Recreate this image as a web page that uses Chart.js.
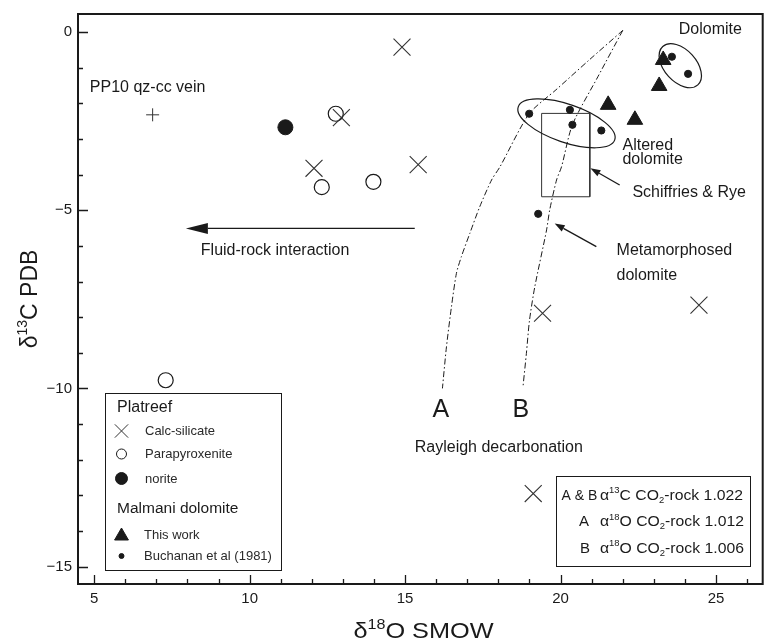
<!DOCTYPE html>
<html>
<head>
<meta charset="utf-8">
<script src="https://cdn.jsdelivr.net/npm/chart.js@4.4.0/dist/chart.umd.min.js"></script>
<style>
body { margin: 0; background: #fff; }
canvas { display: block; }
</style>
</head>
<body>
<canvas id="myChart" width="764" height="642"></canvas>
<script>
// axis ticks
let xTicks = [5, 10, 15, 20, 25];
let yTicks = [0, -5, -10, -15];

// Platreef
let calcX = [14.9, 12.95, 12.07, 15.42, 19.42, 24.45, 19.12];
let calcY = [-0.42, -2.4, -3.82, -3.72, -7.89, -7.66, -12.95];
let paraX = [12.77, 12.32, 13.98, 7.3];
let paraY = [-2.29, -4.35, -4.2, -9.77];
let noriteX = [11.15];
let noriteY = [-2.67];
// Malmani dolomite
let thisWorkX = [23.3, 23.17, 21.53, 22.39];
let thisWorkY = [-0.78, -1.51, -2.04, -2.46];
let buchX = [23.58, 24.1, 18.99, 20.3, 20.38, 21.31, 19.28];
let buchY = [-0.69, -1.17, -2.29, -2.18, -2.6, -2.76, -5.1];
// PP10 qz-cc vein
let veinX = [6.88];
let veinY = [-2.32];
// Rayleigh decarbonation curves
let curveAX = [22.0, 20.92, 19.85, 18.99, 18.05, 17.78, 17.4, 17.08, 16.81, 16.65, 16.49, 16.33, 16.2];
let curveAY = [0.05, -0.78, -1.62, -2.29, -3.78, -4.15, -4.9, -5.65, -6.3, -6.77, -7.71, -8.83, -10.0];
let curveBX = [22.0, 21.2, 20.38, 20.03, 19.87, 19.65, 19.55, 19.17, 19.0, 18.9, 18.79];
let curveBY = [0.05, -1.25, -2.6, -3.78, -4.15, -4.99, -5.55, -7.15, -8.09, -9.02, -9.96];
// Schiffries & Rye field
let boxX = [19.39, 20.94, 20.94, 19.39, 19.39];
let boxY = [-2.28, -2.28, -4.62, -4.62, -2.28];

const font = '"Liberation Sans", Arial, Helvetica, sans-serif';
const ink = '#1a1a1a';

function pts(xs, ys) {
  return xs.map((x, i) => ({ x: x, y: ys[i] }));
}

function minus(v) {
  return v < 0 ? '\u2212' + Math.abs(v) : String(v);
}

// notes placed in data units
let notes = [
  { t: 'Dolomite', x: 23.8, y: 0.06 },
  { t: 'Altered', x: 21.99, y: -3.17 },
  { t: 'dolomite', x: 21.99, y: -3.59 },
  { t: 'Schiffries & Rye', x: 22.31, y: -4.51 },
  { t: 'Metamorphosed', x: 21.8, y: -6.12 },
  { t: 'dolomite', x: 21.8, y: -6.82 },
  { t: 'PP10 qz-cc vein', x: 4.86, y: -1.56 },
  { t: 'Fluid-rock interaction', x: 8.43, y: -6.13 },
  { t: 'Rayleigh decarbonation', x: 15.31, y: -11.65 }
];
let arrows = [
  { x1: 15.31, y1: -5.51, x2: 7.95, y2: -5.51, len: 22, half: 5.5 },
  { x1: 21.9, y1: -4.29, x2: 20.96, y2: -3.82, len: 10, half: 3.5 },
  { x1: 21.15, y1: -6.02, x2: 19.81, y2: -5.37, len: 10, half: 3.5 }
];
let ellipses = [
  { x: 20.19, y: -2.56, rx: 51, ry: 19, rot: 0.33 },
  { x: 23.85, y: -0.94, rx: 26, ry: 16, rot: 0.83 }
];

function marker(ctx, style, x, y, r, filled) {
  ctx.beginPath();
  if (style == 'circle') {
    ctx.arc(x, y, r, 0, Math.PI * 2);
  } else if (style == 'triangle') {
    ctx.moveTo(x, y - r);
    ctx.lineTo(x + 0.866 * r, y + 0.5 * r);
    ctx.lineTo(x - 0.866 * r, y + 0.5 * r);
    ctx.closePath();
  } else if (style == 'crossRot') {
    let d = r * Math.SQRT1_2;
    ctx.moveTo(x - d, y - d); ctx.lineTo(x + d, y + d);
    ctx.moveTo(x + d, y - d); ctx.lineTo(x - d, y + d);
  }
  if (filled) ctx.fill();
  ctx.stroke();
}

// text with super/subscripts; parts = [[text, 'n'|'sup'|'sub'], ...]
function rich(ctx, parts, x, y, size, align) {
  let small = Math.round(size * 0.62);
  let w = 0;
  parts.forEach(p => {
    ctx.font = (p[1] == 'n' ? size : small) + 'px ' + font;
    w += ctx.measureText(p[0]).width;
  });
  let cx = align == 'center' ? x - w / 2 : x;
  ctx.textAlign = 'left';
  parts.forEach(p => {
    let dy = p[1] == 'sup' ? -size * 0.42 : p[1] == 'sub' ? size * 0.22 : 0;
    ctx.font = (p[1] == 'n' ? size : small) + 'px ' + font;
    ctx.fillText(p[0], cx, y + dy);
    cx += ctx.measureText(p[0]).width;
  });
}

const decor = {
  id: 'decor',
  afterDatasetsDraw(chart) {
    const ctx = chart.ctx, a = chart.chartArea;
    const sx = chart.scales.x, sy = chart.scales.y;
    ctx.save();
    ctx.strokeStyle = ink;
    ctx.fillStyle = ink;

    // frame
    ctx.lineWidth = 2;
    ctx.strokeRect(a.left, a.top, a.right - a.left, a.bottom - a.top);

    // inward ticks, major every 5, minor every 1
    ctx.lineWidth = 1.3;
    ctx.beginPath();
    for (let v = Math.ceil(sx.min); v <= sx.max; v++) {
      let p = Math.round(sx.getPixelForValue(v)) + 0.5;
      let l = v % 5 == 0 ? 9 : 5;
      ctx.moveTo(p, a.bottom); ctx.lineTo(p, a.bottom - l);
    }
    for (let v = Math.ceil(sy.min); v <= sy.max; v++) {
      let p = Math.round(sy.getPixelForValue(v)) + 0.5;
      let l = v % 5 == 0 ? 10 : 5;
      ctx.moveTo(a.left, p); ctx.lineTo(a.left + l, p);
    }
    ctx.stroke();

    // tick labels from the scales' ticks
    ctx.font = '15px ' + font;
    ctx.textBaseline = 'middle';
    ctx.textAlign = 'center';
    sx.ticks.forEach(t => ctx.fillText(minus(t.value), sx.getPixelForValue(t.value), a.bottom + 15));
    ctx.textAlign = 'right';
    sy.ticks.forEach(t => ctx.fillText(minus(t.value), a.left - 6, sy.getPixelForValue(t.value)));

    // ellipses
    ctx.lineWidth = 1.2;
    ellipses.forEach(e => {
      ctx.beginPath();
      ctx.ellipse(sx.getPixelForValue(e.x), sy.getPixelForValue(e.y), e.rx, e.ry, e.rot, 0, Math.PI * 2);
      ctx.stroke();
    });

    // arrows
    arrows.forEach(r => {
      let x1 = sx.getPixelForValue(r.x1), y1 = sy.getPixelForValue(r.y1);
      let x2 = sx.getPixelForValue(r.x2), y2 = sy.getPixelForValue(r.y2);
      let ang = Math.atan2(y2 - y1, x2 - x1);
      let bx = x2 - Math.cos(ang) * r.len, by = y2 - Math.sin(ang) * r.len;
      ctx.lineWidth = 1.3;
      ctx.beginPath(); ctx.moveTo(x1, y1); ctx.lineTo(bx, by); ctx.stroke();
      ctx.beginPath();
      ctx.moveTo(x2, y2);
      ctx.lineTo(bx - Math.sin(ang) * r.half, by + Math.cos(ang) * r.half);
      ctx.lineTo(bx + Math.sin(ang) * r.half, by - Math.cos(ang) * r.half);
      ctx.closePath(); ctx.fill();
    });

    // notes
    ctx.textBaseline = 'middle';
    ctx.textAlign = 'left';
    ctx.font = '16px ' + font;
    notes.forEach(n => {
      ctx.fillText(n.t, sx.getPixelForValue(n.x), sy.getPixelForValue(n.y));
    });
    ctx.font = '25px ' + font;
    ctx.textAlign = 'center';
    ctx.fillText('A', sx.getPixelForValue(16.15), sy.getPixelForValue(-10.62));
    ctx.fillText('B', sx.getPixelForValue(18.72), sy.getPixelForValue(-10.62));

    // legend: Platreef / Malmani dolomite
    ctx.lineWidth = 1;
    ctx.fillStyle = '#fff';
    ctx.fillRect(105.5, 393.5, 176, 177);
    ctx.strokeRect(105.5, 393.5, 176, 177);
    ctx.fillStyle = ink;
    ctx.textAlign = 'left';
    ctx.font = '16px ' + font;
    ctx.fillText('Platreef', 117, 408);
    ctx.font = '15.5px ' + font;
    ctx.fillText('Malmani dolomite', 117, 509);
    ctx.font = '13px ' + font;
    ctx.fillStyle = '#2a2a2a';
    ctx.fillText('Calc-silicate', 145, 431);
    ctx.fillText('Parapyroxenite', 145, 454);
    ctx.fillText('norite', 145, 479);
    ctx.fillText('This work', 144, 535);
    ctx.fillText('Buchanan et al (1981)', 144, 556);
    ctx.lineWidth = 1;
    ctx.strokeStyle = '#333';
    marker(ctx, 'crossRot', 121.5, 431, 9.4, false);
    ctx.fillStyle = ink;
    ctx.strokeStyle = ink;
    marker(ctx, 'circle', 121.5, 454, 5, false);
    marker(ctx, 'circle', 121.5, 478.5, 6, true);
    marker(ctx, 'triangle', 121.5, 536, 8, true);
    marker(ctx, 'circle', 121.5, 556, 2.5, true);

    // legend: fractionation factors
    ctx.fillStyle = '#fff';
    ctx.fillRect(556.5, 476.5, 194, 90);
    ctx.strokeStyle = ink;
    ctx.strokeRect(556.5, 476.5, 194, 90);
    ctx.fillStyle = ink;
    ctx.textBaseline = 'alphabetic';
    ctx.font = '14px ' + font;
    ctx.fillText('A & B', 561.5, 499.5);
    ctx.font = '15px ' + font;
    ctx.fillText('A', 579, 526);
    ctx.fillText('B', 580, 552.5);
    ctx.save();
    ctx.translate(600, 0);
    ctx.scale(1.05, 1);
    rich(ctx, [['\u03b1', 'n'], ['13', 'sup'], ['C CO', 'n'], ['2', 'sub'], ['-rock 1.022', 'n']], 0, 499.5, 15, 'left');
    rich(ctx, [['\u03b1', 'n'], ['18', 'sup'], ['O CO', 'n'], ['2', 'sub'], ['-rock 1.012', 'n']], 0, 526, 15, 'left');
    rich(ctx, [['\u03b1', 'n'], ['18', 'sup'], ['O CO', 'n'], ['2', 'sub'], ['-rock 1.006', 'n']], 0, 552.5, 15, 'left');
    ctx.restore();

    // axis titles
    ctx.save();
    ctx.translate(423.5, 638);
    ctx.scale(1.15, 1);
    rich(ctx, [['\u03b4', 'n'], ['18', 'sup'], ['O SMOW', 'n']], 0, 0, 22, 'center');
    ctx.restore();
    ctx.save();
    ctx.translate(37, 299);
    ctx.rotate(-Math.PI / 2);
    rich(ctx, [['\u03b4', 'n'], ['13', 'sup'], ['C PDB', 'n']], 0, 0, 23, 'center');
    ctx.restore();

    ctx.restore();
  }
};

new Chart(document.getElementById('myChart'), {
  type: 'scatter',
  data: {
    datasets: [
      { label: 'Calc-silicate', data: pts(calcX, calcY), pointStyle: 'crossRot', pointRadius: 12, borderColor: '#333', borderWidth: 1.1 },
      { label: 'Parapyroxenite', data: pts(paraX, paraY), pointStyle: 'circle', pointRadius: 7.5, borderColor: ink, backgroundColor: 'rgba(0,0,0,0)', borderWidth: 1.2 },
      { label: 'norite', data: pts(noriteX, noriteY), pointStyle: 'circle', pointRadius: 7.5, borderColor: ink, backgroundColor: ink, borderWidth: 1 },
      { label: 'This work', data: pts(thisWorkX, thisWorkY), pointStyle: 'triangle', pointRadius: 9, borderColor: ink, backgroundColor: ink, borderWidth: 1 },
      { label: 'Buchanan et al (1981)', data: pts(buchX, buchY), pointStyle: 'circle', pointRadius: 3.6, borderColor: ink, backgroundColor: ink, borderWidth: 1 },
      { label: 'PP10 qz-cc vein', data: pts(veinX, veinY), pointStyle: 'cross', pointRadius: 6.5, borderColor: '#333', borderWidth: 1 },
      { label: 'A', data: pts(curveAX, curveAY), showLine: true, pointRadius: 0, borderColor: ink, borderWidth: 1, borderDash: [6, 2.5, 1.5, 2.5], tension: 0.25 },
      { label: 'B', data: pts(curveBX, curveBY), showLine: true, pointRadius: 0, borderColor: ink, borderWidth: 1, borderDash: [6, 2.5, 1.5, 2.5], tension: 0.25 },
      { label: 'Schiffries & Rye', data: pts(boxX, boxY), showLine: true, pointRadius: 0, borderColor: '#333', borderWidth: 1, tension: 0 }
    ]
  },
  options: {
    responsive: false,
    animation: false,
    events: [],
    layout: { autoPadding: false, padding: { top: 14, right: 1.3, left: 0, bottom: 0 } },
    plugins: { legend: { display: false }, tooltip: { enabled: false } },
    scales: {
      x: {
        type: 'linear', min: 4.48, max: 26.5,
        afterBuildTicks: s => { s.ticks = xTicks.map(v => ({ value: v })); },
        afterFit: s => { s.height = 58; },
        grid: { display: false, drawTicks: false },
        border: { display: false },
        ticks: { display: false }
      },
      y: {
        type: 'linear', min: -15.49, max: 0.51,
        afterBuildTicks: s => { s.ticks = yTicks.map(v => ({ value: v })); },
        afterFit: s => { s.width = 78; },
        grid: { display: false, drawTicks: false },
        border: { display: false },
        ticks: { display: false }
      }
    }
  },
  plugins: [decor]
});
</script>
</body>
</html>
